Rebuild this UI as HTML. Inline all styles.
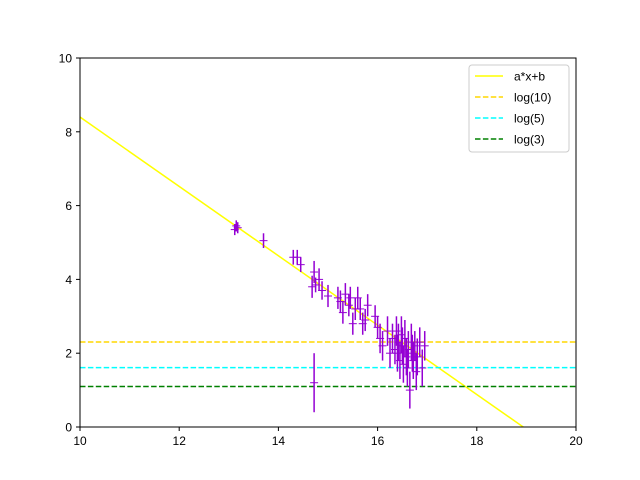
<!DOCTYPE html>
<html><head><meta charset="utf-8"><style>
body{margin:0;background:#fff;}
svg{display:block;font-family:"Liberation Sans",sans-serif;}
</style></head><body>
<svg id="chart" width="640" height="480">
<g id="plot"></g>
</svg>
<script>
const xs=[13.12,13.15,13.18,13.7,14.3,14.38,14.45,14.68,14.72,14.75,14.82,14.88,14.72,15.0,15.2,15.25,15.3,15.35,15.42,15.45,15.5,15.55,15.6,15.65,15.7,15.75,15.8,15.95,16.0,16.05,16.1,16.2,16.25,16.3,16.35,16.38,16.4,16.42,16.45,16.48,16.5,16.52,16.55,16.58,16.6,16.62,16.65,16.68,16.7,16.72,16.75,16.78,16.8,16.85,16.9,16.95];
const ys=[5.35,5.45,5.4,5.05,4.6,4.6,4.4,3.8,4.2,3.85,4.0,3.7,1.2,3.55,3.5,3.4,3.1,3.6,3.3,3.5,2.8,3.2,3.5,3.2,2.8,2.9,3.3,3.0,2.7,2.4,2.2,2.6,2.0,2.4,2.1,2.6,2.0,2.3,1.8,2.5,2.2,1.7,2.4,1.9,1.6,2.1,1.0,2.3,2.0,1.8,2.2,1.5,1.9,2.3,1.6,2.2];
const errs=[0.15,0.15,0.15,0.2,0.2,0.2,0.2,0.3,0.3,0.2,0.3,0.25,0.8,0.3,0.3,0.3,0.3,0.3,0.3,0.3,0.3,0.3,0.3,0.3,0.3,0.3,0.3,0.3,0.3,0.4,0.4,0.4,0.4,0.4,0.4,0.4,0.5,0.5,0.5,0.5,0.5,0.5,0.5,0.5,0.5,0.5,0.5,0.5,0.5,0.5,0.4,0.5,0.5,0.4,0.5,0.4];
const xTicks=[10,12,14,16,18,20];
const yTicks=[0,2,4,6,8,10];
const lineA=-0.94, lineB=17.8;
const hLines=[["log(10)",2.303,"#ffd700"],["log(5)",1.609,"#00ffff"],["log(3)",1.099,"#008000"]];
const X0=80,X1=576,Y0=427,Y1=58;
const sx=v=>X0+(v-10)/10*(X1-X0);
const sy=v=>Y0-(v-0)/10*(Y0-Y1);
const g=document.getElementById('plot');
const NS='http://www.w3.org/2000/svg';
function mk(t,a,p){const e=document.createElementNS(NS,t);for(const k in a)e.setAttribute(k,a[k]);(p||g).appendChild(e);return e;}
const cp=mk('clipPath',{id:'cp'});mk('rect',{x:X0,y:Y1,width:X1-X0,height:Y0-Y1},cp);
// fit line
let l=mk('line',{x1:sx(10),y1:sy(lineA*10+lineB),x2:sx(20),y2:sy(lineA*20+lineB),stroke:'#ffff00','stroke-width':1.5,'clip-path':'url(#cp)'});


hLines.forEach(h=>{
 let e=mk('line',{x1:X0,x2:X1,y1:sy(h[1]),y2:sy(h[1]),stroke:h[2],'stroke-width':1.5,'stroke-dasharray':'5.5,2.4'});
 
 
});
xs.forEach((x,i)=>{
 let gg=mk('g',{stroke:'#9400d3','stroke-width':1.5});
 
 
 mk('line',{x1:sx(x),x2:sx(x),y1:sy(ys[i]-errs[i]),y2:sy(ys[i]+errs[i])},gg);
 mk('line',{x1:sx(x)-4,x2:sx(x)+4,y1:sy(ys[i]),y2:sy(ys[i]),'stroke-width':1},gg);
});
let fr=mk('rect',{x:X0,y:Y1,width:X1-X0,height:Y0-Y1,fill:'none',stroke:'#000','stroke-width':1});


xTicks.forEach(t=>{
 mk('line',{x1:sx(t),x2:sx(t),y1:Y0,y2:Y0+4,stroke:'#000'});
 let e=mk('text',{x:sx(t),y:Y0+18,'text-anchor':'middle','font-size':12});e.textContent=t;
 
 
});
yTicks.forEach(t=>{
 mk('line',{x1:X0-4,x2:X0,y1:sy(t),y2:sy(t),stroke:'#000'});
 let e=mk('text',{x:X0-8,y:sy(t)+4.5,'text-anchor':'end','font-size':12});e.textContent=t;
 
 
});
// legend
let lg=mk('g',{});


mk('rect',{x:469,y:65,width:100,height:87,rx:3,fill:'#fff',stroke:'#ccc'},lg);
const ent=[["a*x+b","#ffff00",null]].concat(hLines.map(h=>[h[0],h[2],'5.5,2.4']));
ent.forEach((e,i)=>{
 const y=76+i*21;
 let a={x1:475,x2:503,y1:y,y2:y,stroke:e[1],'stroke-width':1.5};if(e[2])a['stroke-dasharray']=e[2];
 mk('line',a,lg);
 let t=mk('text',{x:514,y:y+4.5,'font-size':12},lg);t.textContent=e[0];
 
 
});
</script>
</body></html>
